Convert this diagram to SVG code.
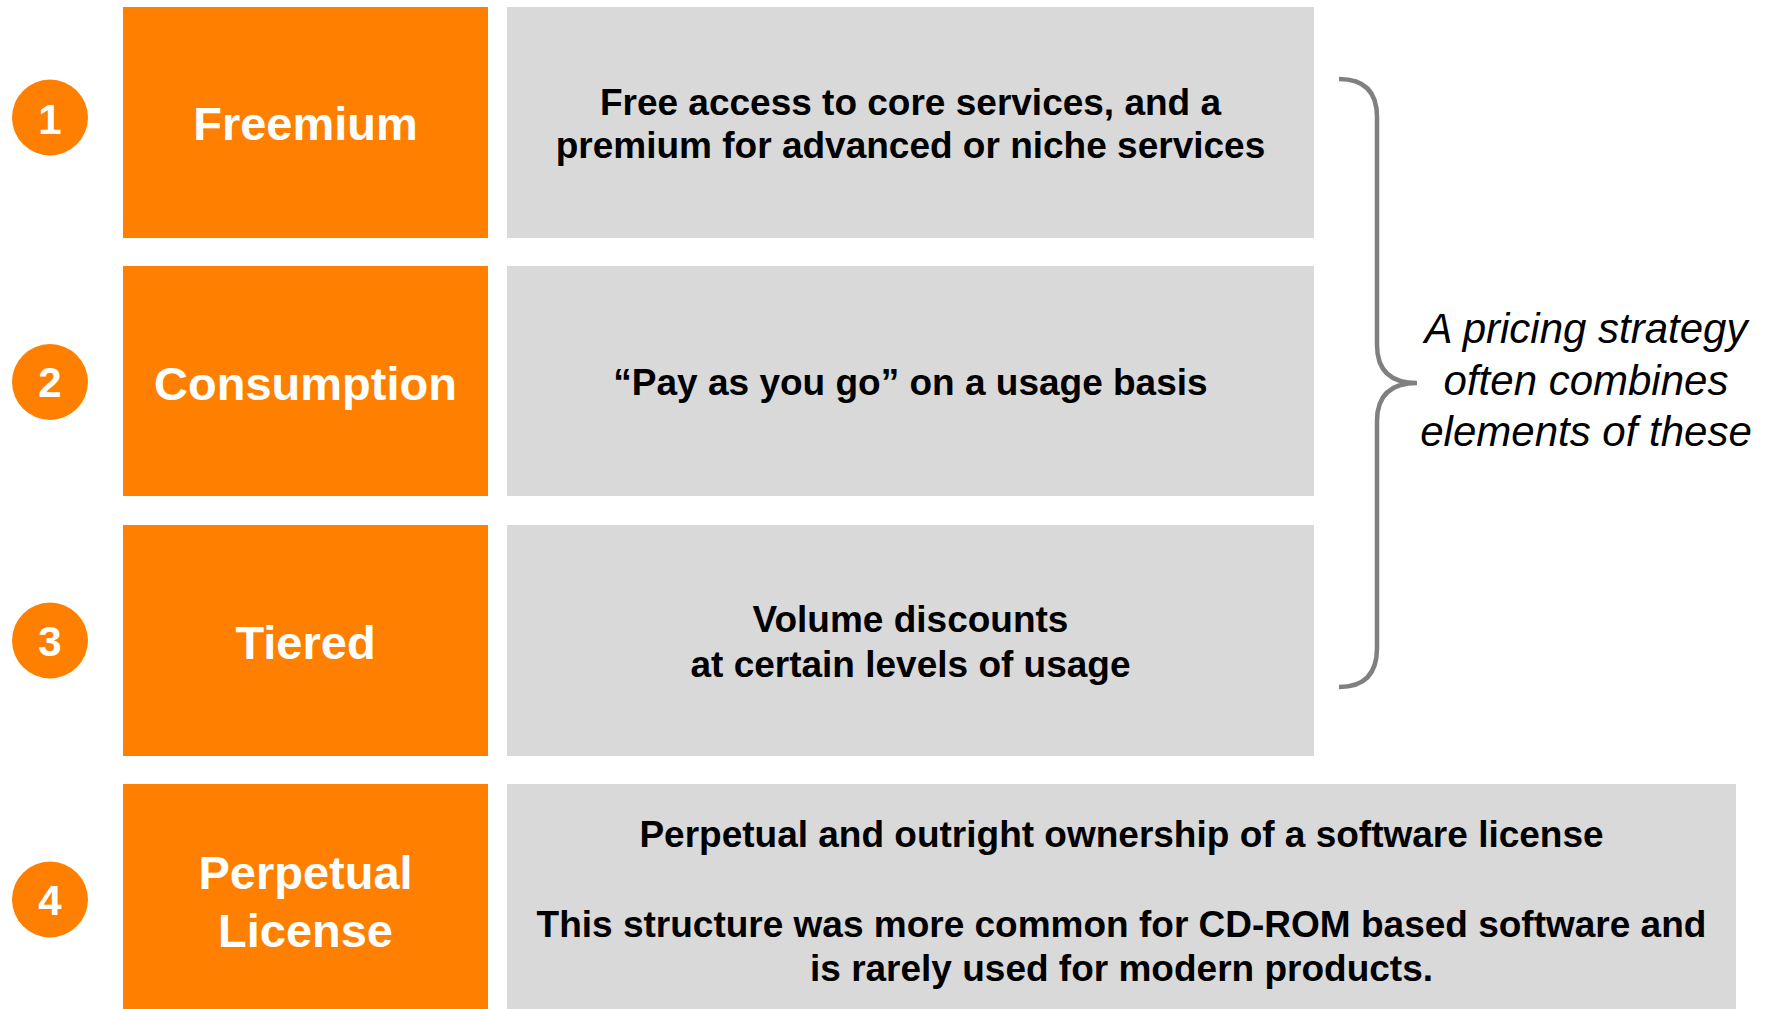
<svg xmlns="http://www.w3.org/2000/svg" width="1772" height="1009" viewBox="0 0 1772 1009">
<style>
.lbl{fill:#FF8000}
.desc{fill:#D9D9D9}
.num{fill:#FF8000}
.numt{font-family:"Liberation Sans",Arial,sans-serif;font-weight:bold;font-size:42px;fill:#FFFFFF;text-anchor:middle}
.lt{font-family:"Liberation Sans",Arial,sans-serif;font-weight:bold;font-size:47px;fill:#FFFFFF;text-anchor:middle}
.dt{font-family:"Liberation Sans",Arial,sans-serif;font-weight:bold;font-size:37px;fill:#000000;text-anchor:middle}
.it{font-family:"Liberation Sans",Arial,sans-serif;font-style:italic;font-size:42px;fill:#000000;text-anchor:middle}
</style>
<rect width="1772" height="1009" fill="#FFFFFF"/>
<g id="row1">
<circle class="num" cx="50" cy="117.5" r="38"/>
<text class="numt" x="50" y="134">1</text>
<rect class="lbl" x="123" y="7" width="365" height="231"/>
<text class="lt" x="305.5" y="140">Freemium</text>
<rect class="desc" x="507" y="7" width="807" height="231"/>
<text class="dt" x="910.5" y="115">Free access to core services, and a</text>
<text class="dt" x="910.5" y="158">premium for advanced or niche services</text>
</g>
<g id="row2">
<circle class="num" cx="50" cy="382" r="38"/>
<text class="numt" x="50" y="397">2</text>
<rect class="lbl" x="123" y="266" width="365" height="230"/>
<text class="lt" x="305.5" y="400">Consumption</text>
<rect class="desc" x="507" y="266" width="807" height="230"/>
<text class="dt" x="910.5" y="395">“Pay as you go” on a usage basis</text>
</g>
<g id="row3">
<circle class="num" cx="50" cy="640.5" r="38"/>
<text class="numt" x="50" y="656">3</text>
<rect class="lbl" x="123" y="525" width="365" height="231"/>
<text class="lt" x="305.5" y="659">Tiered</text>
<rect class="desc" x="507" y="525" width="807" height="231"/>
<text class="dt" x="910.5" y="632">Volume discounts</text>
<text class="dt" x="910.5" y="677">at certain levels of usage</text>
</g>
<g id="row4">
<circle class="num" cx="50" cy="899.5" r="38"/>
<text class="numt" x="50" y="915">4</text>
<rect class="lbl" x="123" y="784" width="365" height="225"/>
<text class="lt" x="305.5" y="889">Perpetual</text>
<text class="lt" x="305.5" y="947">License</text>
<rect class="desc" x="507" y="784" width="1229" height="225"/>
<text class="dt" x="1121.5" y="847">Perpetual and outright ownership of a software license</text>
<text class="dt" x="1121.5" y="937">This structure was more common for CD-ROM based software and</text>
<text class="dt" x="1121.5" y="981">is rarely used for modern products.</text>
</g>
<g id="connectors">
<path d="M1339,79 Q1377,79 1377,117 L1377,345 Q1377,383 1417,383 Q1377,383 1377,421 L1377,648 Q1377,687 1339,687" fill="none" stroke="#808080" stroke-width="4.5"/>
</g>
<g id="note">
<text class="it" x="1586" y="343">A pricing strategy</text>
<text class="it" x="1586" y="395">often combines</text>
<text class="it" x="1586" y="446">elements of these</text>
</g>
</svg>
